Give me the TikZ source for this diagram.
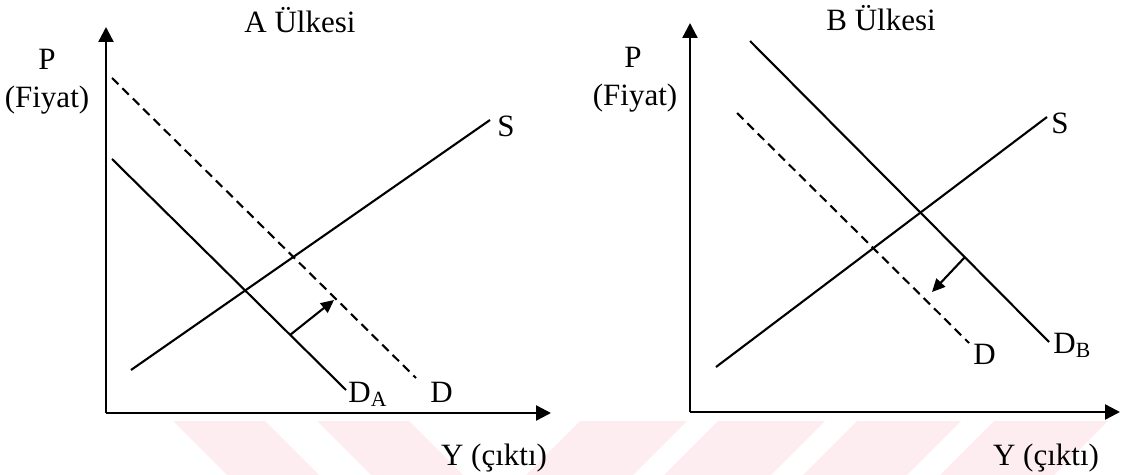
\documentclass[tikz,border=0pt]{standalone}
\usepackage{fontspec}
\setmainfont{Liberation Serif}
\usepackage{xcolor}
\definecolor{cInk}{HTML}{000000}
\definecolor{cMark}{HTML}{FDEDF0}
\usepackage{tikz}
\usetikzlibrary{positioning,arrows.meta}
\tikzset{
  axis-line/.style={-{Triangle[length=7.5pt,width=7.5pt]},line width=1.2pt,draw=cInk},
  curve-line/.style={line width=1.05pt,draw=cInk},
  curve-dash/.style={curve-line,dash pattern=on 4.5pt off 2.8pt},
  arrow-shift/.style={-{Triangle[length=6.5pt,width=6pt]},line width=1.05pt,draw=cInk},
  lbl/.style={font=\fontsize{15.5}{18}\selectfont,inner sep=0pt,text=cInk},
  mark-band/.style={fill=cMark,draw=none},
}
\begin{document}
\begin{tikzpicture}[x=0.5pt,y=-0.5pt]
  \useasboundingbox (0,0) rectangle (1122,475);
  % faint bands along the bottom
  \foreach \x in {173,317}
    \fill[mark-band] (\x,421) -- ++(92,0) -- ++(54,54) -- ++(-92,0) -- cycle;
  \foreach \x/\w in {580/107,718/107,857/104,994/114}
    \fill[mark-band] (\x,421) -- ++(\w,0) -- ++(-54,54) -- ++(-\w,0) -- cycle;

  % A Ulkesi
  \coordinate (A-o) at (106,413);
  \coordinate (A-ytip) at (106,27);
  \coordinate (A-xtip) at (551,413);
  \draw[axis-line] (A-o) -- (A-ytip);
  \draw[axis-line] (A-o) -- (A-xtip);
  \node[lbl,anchor=base] (A-title) at (300,33) {A Ülkesi};
  \node[lbl,anchor=base] (A-p) at (47,70) {P};
  \node[lbl,anchor=base] (A-fiyat) at (47,108) {(Fiyat)};
  \node[lbl,anchor=base] (A-y) at (494,465) {Y (çıktı)};
  \coordinate (A-s0) at (131,370);  \coordinate (A-s1) at (490,120);
  \coordinate (A-da0) at (112,159); \coordinate (A-da1) at (346,390);
  \coordinate (A-d0) at (112,78);   \coordinate (A-d1) at (416,378);
  \draw[curve-line] (A-s0) -- (A-s1);
  \draw[curve-line] (A-da0) -- (A-da1);
  \draw[curve-dash] (A-d0) -- (A-d1);
  \node[lbl,anchor=base] (A-s) at (506,137) {S};
  \node[lbl,anchor=base west] (A-da) at (348,402) {D\textsubscript{A}};
  \node[lbl,anchor=base west] (A-d) at (430,402) {D};
  \coordinate (A-from) at (290,335); \coordinate (A-to) at (334,300);
  \draw[arrow-shift] (A-from) -- (A-to);

  % B Ulkesi
  \coordinate (B-o) at (690,412);
  \coordinate (B-ytip) at (690,23);
  \coordinate (B-xtip) at (1120,412);
  \draw[axis-line] (B-o) -- (B-ytip);
  \draw[axis-line] (B-o) -- (B-xtip);
  \node[lbl,anchor=base] (B-title) at (881,31) {B Ülkesi};
  \node[lbl,anchor=base] (B-p) at (633,68) {P};
  \node[lbl,anchor=base] (B-fiyat) at (635,106) {(Fiyat)};
  \node[lbl,anchor=base] (B-y) at (1046,465) {Y (çıktı)};
  \coordinate (B-s0) at (716,367);  \coordinate (B-s1) at (1047,117);
  \coordinate (B-db0) at (750,41);  \coordinate (B-db1) at (1049,342);
  \coordinate (B-d0) at (737,113);  \coordinate (B-d1) at (969,343);
  \draw[curve-line] (B-s0) -- (B-s1);
  \draw[curve-line] (B-db0) -- (B-db1);
  \draw[curve-dash] (B-d0) -- (B-d1);
  \node[lbl,anchor=base] (B-s) at (1060,134) {S};
  \node[lbl,anchor=base west] (B-db) at (1053,353) {D\textsubscript{B}};
  \node[lbl,anchor=base west] (B-d) at (973,364) {D};
  \coordinate (B-from) at (965,257); \coordinate (B-to) at (932,292);
  \draw[arrow-shift] (B-from) -- (B-to);
\end{tikzpicture}
\end{document}
